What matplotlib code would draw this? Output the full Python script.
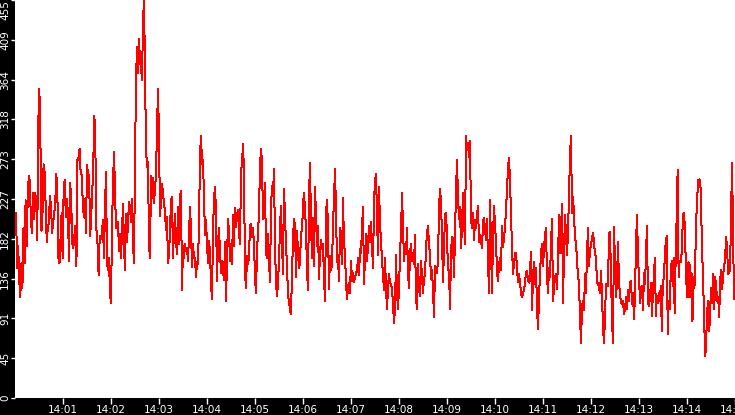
import numpy as np
import matplotlib
matplotlib.use('Agg')
import matplotlib.pyplot as plt

# seconds after 14:00 where each traced block starts (each block is 112.5 s)
block_starts = [0, 112.5, 225, 337.5, 450, 562.5, 675, 787.5]
block_len = 112.5

block1 = [188, 212, 148, 174, 134, 115, 154, 126, 194, 154, 226, 174, 228, 254, 248, 203,
          189, 235, 205, 234, 228, 181, 315, 353, 294, 191, 212, 267, 258, 218, 178, 195,
          201, 231, 220, 188, 201, 210, 223, 256, 234, 160, 154, 182, 211, 160, 243, 249,
          207, 228, 210, 157, 246, 230, 178, 171, 185, 197, 151, 272, 275, 285, 257, 255,
          223, 207, 228, 188, 266, 257, 252, 185, 211, 235, 274, 323, 277, 189, 176, 140,
          185, 182, 188, 203, 160]
block2 = [218, 258, 154, 146, 160, 119, 108, 195, 245, 281, 235, 194, 200, 201, 168, 188,
          160, 190, 222, 174, 146, 210, 178, 201, 224, 218, 201, 228, 176, 154, 268, 363,
          401, 372, 411, 384, 379, 363, 430, 455, 375, 285, 264, 270, 174, 160, 254, 228,
          252, 223, 240, 254, 310, 353, 297, 208, 225, 245, 234, 223, 212, 192, 207, 154,
          164, 192, 226, 230, 160, 192, 210, 181, 164, 219, 176, 230, 237, 123, 174, 160,
          176, 168, 171, 157, 188, 218, 192, 150, 176, 160]
block3 = [160, 138, 155, 153, 200, 277, 300, 268, 272, 229, 186, 203, 176, 154, 180, 166,
          130, 113, 191, 228, 241, 212, 134, 178, 194, 166, 143, 157, 146, 135, 178, 111,
          157, 205, 189, 157, 176, 153, 209, 174, 217, 195, 209, 215, 188, 176, 257, 269,
          291, 256, 143, 126, 162, 153, 162, 197, 199, 184, 194, 176, 138, 120, 170, 188,
          214, 264, 285, 269, 205, 215, 246, 165, 160, 188, 157, 132, 218, 243, 234, 262,
          174, 132, 117, 132, 157, 195, 220, 176, 142, 239]
block4 = [206, 176, 151, 117, 111, 100, 96, 142, 182, 205, 197, 138, 191, 166, 149, 155,
          189, 191, 220, 235, 214, 194, 146, 123, 231, 269, 199, 160, 206, 151, 241, 206,
          174, 197, 136, 165, 181, 170, 176, 136, 111, 211, 226, 197, 125, 162, 146, 153,
          197, 229, 262, 212, 155, 160, 134, 194, 184, 153, 229, 176, 165, 132, 113, 127,
          132, 120, 157, 134, 143, 132, 138, 142, 146, 160, 140, 170, 166, 194, 218, 130,
          162, 187, 157, 174, 197, 178, 201, 174, 149, 222]
block5 = [249, 256, 209, 163, 241, 199, 180, 157, 142, 123, 160, 126, 102, 126, 142, 132,
          130, 125, 108, 86, 102, 163, 120, 102, 125, 165, 191, 234, 197, 157, 176, 165,
          194, 143, 126, 165, 176, 157, 166, 153, 186, 113, 102, 153, 125, 117, 157, 140,
          120, 138, 140, 171, 188, 197, 174, 165, 136, 146, 123, 92, 151, 146, 143, 157,
          217, 239, 224, 184, 132, 172, 209, 212, 184, 146, 146, 102, 166, 184, 182, 138,
          188, 237, 272, 229, 205, 218, 171, 195, 235, 206]
block6 = [176, 300, 285, 292, 275, 294, 205, 194, 212, 180, 203, 194, 209, 220, 178, 186,
          180, 171, 201, 206, 194, 180, 205, 157, 120, 227, 174, 120, 184, 220, 197, 180,
          143, 134, 153, 160, 146, 197, 172, 184, 195, 217, 237, 264, 274, 248, 209, 172,
          142, 153, 166, 166, 149, 132, 142, 132, 120, 115, 120, 123, 132, 143, 145, 134,
          132, 146, 167, 100, 138, 156, 130, 149, 103, 79, 115, 142, 165, 176, 151, 171,
          186, 194, 140, 120, 149, 138, 176, 205, 111, 126]
block7 = [138, 142, 125, 157, 209, 166, 195, 222, 109, 166, 209, 188, 163, 191, 231, 277,
          300, 211, 230, 211, 182, 178, 157, 140, 130, 94, 63, 105, 111, 100, 142, 120,
          166, 194, 151, 171, 174, 183, 189, 178, 165, 160, 132, 132, 126, 120, 145, 117,
          80, 63, 94, 130, 130, 128, 188, 190, 138, 90, 63, 195, 153, 115, 134, 178,
          130, 120, 109, 107, 111, 96, 102, 115, 102, 124, 111, 132, 134, 107, 120, 90,
          120, 176, 209, 160, 138, 109, 126, 128, 100, 143]
block8 = [130, 165, 197, 109, 105, 115, 132, 94, 120, 140, 160, 94, 117, 109, 120, 111,
          128, 77, 134, 136, 160, 180, 185, 73, 111, 102, 143, 157, 128, 160, 97, 160,
          206, 261, 138, 157, 155, 165, 195, 212, 201, 165, 128, 115, 155, 153, 115, 143,
          88, 138, 126, 166, 209, 234, 249, 250, 246, 201, 160, 124, 80, 48, 71, 102,
          111, 77, 105, 126, 109, 142, 102, 138, 126, 111, 115, 92, 136, 146, 124, 142,
          149, 160, 184, 171, 142, 143, 146, 205, 269, 188, 113]

x_ticks = [60, 120, 180, 240, 300, 360, 420, 480, 540, 600, 660, 720, 780, 840, 900]
x_labels = ['14:01', '14:02', '14:03', '14:04', '14:05', '14:06', '14:07', '14:08',
            '14:09', '14:10', '14:11', '14:12', '14:13', '14:14', '14:15']
y_ticks = [0, 45.5, 91, 136.5, 182, 227.5, 273, 318.5, 364, 409.5, 455]
y_labels = ['0', '45', '91', '136', '182', '227', '273', '318', '364', '409', '455']

blocks = [block1, block2, block3, block4, block5, block6, block7, block8]
t = np.concatenate([np.linspace(s, s + block_len, len(b), endpoint=False)
                    for s, b in zip(block_starts, blocks)])
v = np.concatenate([np.array(b, dtype=float) for b in blocks])

fig = plt.figure(figsize=(7.35, 4.15), dpi=100, facecolor='black')
ax = fig.add_axes([15 / 735, 17 / 415, 720 / 735, 398 / 415])
ax.set_facecolor('white')
ax.plot(t, v, color='#ff0000', linewidth=0.72, antialiased=False)
ax.set_xlim(0, 900)
ax.set_ylim(0, 455)
for sp in ax.spines.values():
    sp.set_visible(False)

ax.set_xticks(x_ticks)
ax.set_xticklabels(x_labels)
ax.set_yticks(y_ticks)
ax.set_yticklabels(y_labels, rotation=90, va='center')
ax.yaxis.get_ticklabels()[-1].set_va('top')
ax.tick_params(axis='x', colors='white', labelsize=7.5, length=4, width=1, pad=1)
ax.tick_params(axis='y', colors='white', labelsize=7.5, length=3, width=1, pad=0.5)

fig.savefig('out.png', dpi=100, facecolor='black')
